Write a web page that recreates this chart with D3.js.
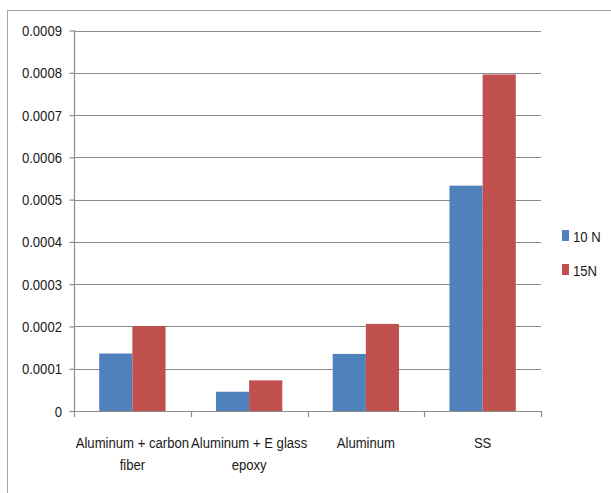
<!DOCTYPE html>
<html>
<head>
<meta charset="utf-8">
<script src="https://cdn.jsdelivr.net/npm/d3@7"></script>
<style>
  html, body { margin: 0; padding: 0; background: #fff; }
  svg text { font-family: "Liberation Sans", Arial, sans-serif; fill: #1a1a1a; }
</style>
</head>
<body>
<svg id="chart" width="611" height="493"></svg>
<script>
const categories = [["Aluminum + carbon", "fiber"], ["Aluminum + E glass", "epoxy"], ["Aluminum"], ["SS"]];
const seriesNames = ["10 N", "15N"];
const values10N = [0.000136, 0.0000456, 0.000135, 0.000533];
const values15N = [0.000201, 0.0000725, 0.000206, 0.000796];
const yTicks = [0, 0.0001, 0.0002, 0.0003, 0.0004, 0.0005, 0.0006, 0.0007, 0.0008, 0.0009];
const colors = ["#4f81bd", "#c0504d"];

const svg = d3.select("#chart");
const plot = { left: 74, right: 541, top: 30.5, bottom: 411 };
const squeeze = 0.875;   // narrow the glyphs horizontally
const fontSize = 15;

// place a horizontally condensed text at (x, y)
function label(parent, tx, ty, str, anchor) {
  return parent.append("text")
    .attr("transform", `translate(${tx},${ty}) scale(${squeeze},1)`)
    .attr("text-anchor", anchor || "start")
    .attr("font-size", fontSize)
    .text(str);
}

// outer chart frame
svg.append("rect")
  .attr("x", 7.5).attr("y", 10.5).attr("width", 620).attr("height", 500)
  .attr("fill", "none").attr("stroke", "#a6a6a6").attr("stroke-width", 1);

const x = d3.scaleBand().domain(d3.range(categories.length))
  .range([plot.left, plot.right]).paddingInner(0).paddingOuter(0);
const inner = d3.scaleBand().domain(seriesNames)
  .range([0, x.bandwidth()]).paddingInner(0).paddingOuter(0.76);
const y = d3.scaleLinear().domain([0, 0.0009]).range([plot.bottom, plot.top]);

// horizontal gridlines
svg.append("g").selectAll("line").data(yTicks.slice(1)).join("line")
  .attr("x1", plot.left).attr("x2", plot.right)
  .attr("y1", d => Math.round(y(d)) + 0.5).attr("y2", d => Math.round(y(d)) + 0.5)
  .attr("stroke", "#8c8c8c").attr("stroke-width", 1.2);

// bars
const series = [values10N, values15N];
series.forEach((vals, si) => {
  svg.append("g").selectAll("rect").data(vals).join("rect")
    .attr("x", (d, i) => x(i) + inner(seriesNames[si]))
    .attr("width", inner.bandwidth())
    .attr("y", d => y(d))
    .attr("height", d => plot.bottom - y(d))
    .attr("fill", colors[si]);
});

// y axis
const tickFmt = d => d === 0 ? "0" : d3.format(".4f")(d);
const yAxis = d3.axisLeft(y).tickValues(yTicks).tickSize(5).tickFormat("");
const ya = svg.append("g").attr("transform", `translate(${plot.left + 0.5},0)`).call(yAxis);
ya.selectAll("line, path").attr("stroke", "#8c8c8c").attr("stroke-width", 1.2);
ya.select(".domain").attr("d", `M0,${plot.top}V${plot.bottom + 0.5}`);
ya.selectAll("text").remove();
yTicks.forEach(v => label(svg, 62, y(v) + 5.5, tickFmt(v), "end"));

// x axis line with category boundary ticks
const xa = svg.append("g");
xa.append("line").attr("x1", plot.left).attr("x2", plot.right)
  .attr("y1", plot.bottom + 0.5).attr("y2", plot.bottom + 0.5)
  .attr("stroke", "#8c8c8c").attr("stroke-width", 1.2);
const bounds = d3.range(categories.length + 1).map(i => i < categories.length ? x(i) : x(i - 1) + x.bandwidth());
xa.selectAll("line.tick").data(bounds).join("line").attr("class", "tick")
  .attr("x1", d => Math.round(d) + 0.5).attr("x2", d => Math.round(d) + 0.5)
  .attr("y1", plot.bottom).attr("y2", plot.bottom + 6)
  .attr("stroke", "#8c8c8c").attr("stroke-width", 1.2);

// category labels
categories.forEach((lines, i) => {
  lines.forEach((ln, k) => label(svg, x(i) + x.bandwidth() / 2, 448 + k * 22, ln, "middle"));
});

// legend
const legend = svg.append("g");
seriesNames.forEach((name, i) => {
  const ly = 236 + i * 34;
  legend.append("rect").attr("x", 562).attr("y", ly - 6).attr("width", 7).attr("height", 11).attr("fill", colors[i]);
  label(legend, 573, ly + 5.5, name, "start");
});
</script>
</body>
</html>
